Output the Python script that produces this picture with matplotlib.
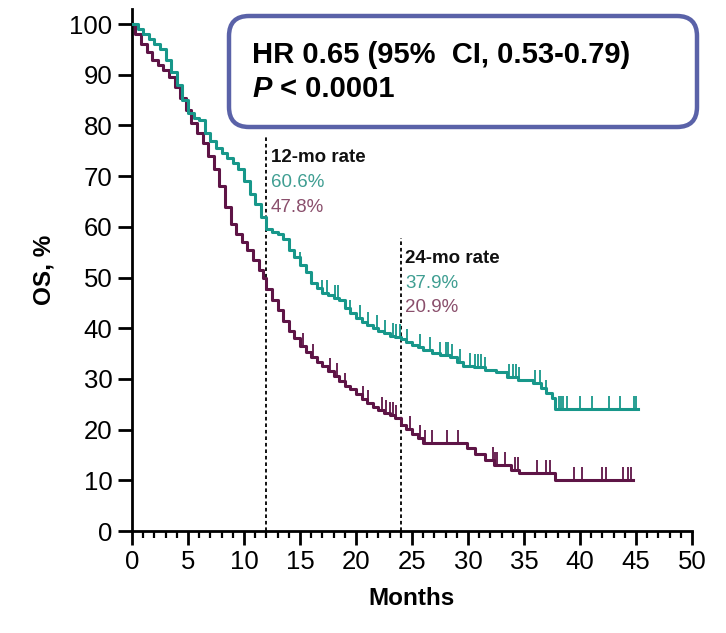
import numpy as np
import matplotlib
matplotlib.use('Agg')
import matplotlib.pyplot as plt
from matplotlib.patches import FancyBboxPatch

# Kaplan-Meier step points (months, OS %)
teal_t = [0, 0.5, 1.0, 1.5, 2.0, 2.5, 3.0, 3.5, 4.0, 4.5, 5.0, 5.5, 6.0, 6.5, 7.0, 7.5,
          8.0, 8.5, 9.0, 9.5, 10.0, 10.5, 11.0, 11.5, 12.0, 12.5, 13.0, 13.5, 14.0, 14.5,
          15.0, 15.5, 16.0, 16.5, 17.0, 17.5, 18.0, 18.5, 19.0, 19.5, 20.0, 20.5, 21.0,
          21.5, 22.0, 22.5, 23.0, 23.5, 24.0, 24.5, 25.0, 25.5, 26.0, 26.8, 27.5, 28.4,
          29.0, 29.6, 30.5, 31.5, 32.5, 33.5, 34.5, 35.8, 36.5, 37.0, 37.5, 37.8, 45.2]
teal_s = [100, 99, 98, 97, 96, 95, 93, 90.5, 88, 85, 82.5, 81.5, 81, 78.5, 77, 75.5,
          74.5, 73.5, 72.5, 71.5, 69, 66.5, 64.5, 62, 59.5, 59, 58.5, 57.5, 55.5, 54,
          52.5, 51, 49, 48, 47, 46.5, 46, 45.5, 44, 43, 42, 41.3, 40.7,
          40, 39.5, 39, 38.5, 38.2, 37.9, 37.3, 36.7, 36.2, 35.8, 35.2, 34.7, 34.3,
          33.3, 32.5, 32.3, 31.8, 31.4, 30.4, 29.8, 29.2, 28.2, 27.2, 26.2, 24.0, 24.0]

maroon_t = [0, 0.3, 0.8, 1.3, 1.8, 2.3, 2.8, 3.3, 3.8, 4.3, 4.8, 5.3, 5.8, 6.3, 6.8, 7.3,
            7.8, 8.3, 8.8, 9.3, 9.8, 10.3, 10.8, 11.3, 11.7, 12.0, 12.5, 13.0, 13.5, 14.0,
            14.5, 15.0, 15.5, 16.0, 16.5, 17.0, 17.5, 18.0, 18.5, 19.0, 19.5, 20.0, 20.5,
            21.0, 21.5, 22.0, 22.5, 23.0, 23.5, 24.0, 24.5, 25.0, 25.5, 26.0, 29.9, 30.6,
            31.5, 32.3, 33.8, 34.6, 37.8, 44.7]
maroon_s = [100, 98, 96, 94.5, 93, 92, 91, 89.5, 87.5, 85.5, 83, 80.5, 78.5, 76.5, 74, 71.5,
            68, 64, 60.5, 58.5, 57, 55.5, 53.5, 51.5, 50, 47.8, 45.5, 43.5, 41.5, 39.5,
            38, 36.5, 35.3, 34.3, 33.3, 32.5, 31.5, 30.5, 29.5, 28.7, 28, 27, 26,
            25.3, 24.5, 23.8, 23.3, 22.8, 22.2, 20.9, 20.2, 19.2, 18.3, 17.4, 16.3, 15.2,
            14.0, 13.0, 12.0, 11.4, 10.0, 10.0]

# censor times
teal_cens = [15.0, 17.0, 17.4, 18.1, 18.4, 19.5, 20.4, 21.1, 21.9, 22.6, 23.3, 23.6, 23.9,
             24.6, 25.7, 26.6, 27.5, 28.0, 28.2, 28.6, 29.3, 30.2, 30.6, 30.9, 31.2, 31.5,
             33.7, 34.0, 34.3, 34.6, 36.0, 36.4, 37.0, 38.1, 38.3, 38.5, 38.8, 40.0, 41.1,
             42.6, 43.6, 44.8, 45.0]
maroon_cens = [15.3, 16.2, 17.7, 18.3, 19.0, 20.6, 21.1, 22.3, 22.7, 23.0, 23.3, 23.6, 24.8,
               25.7, 26.2, 26.8, 28.1, 29.1, 32.2, 32.4, 32.6, 33.3, 34.2, 34.5, 36.2, 37.0,
               37.3, 39.5, 40.2, 42.0, 42.3, 43.8, 44.3, 44.6]

landmarks = [12, 24]
landmark_top = [77.7, 57.8]
rate_labels = ['12-mo rate', '24-mo rate']
teal_rates = ['60.6%', '37.9%']
maroon_rates = ['47.8%', '20.9%']

TEAL = '#17978a'
MAROON = '#5e1446'
TEAL_TXT = '#3f9e92'
MAROON_TXT = '#8a4f6c'

plt.rcParams['font.family'] = ['Liberation Sans', 'DejaVu Sans']


def surv_at(times, surv, c):
    idx = np.searchsorted(times, c, side='right') - 1
    return np.asarray(surv)[idx]


fig = plt.figure(figsize=(7.26, 6.33), dpi=100)
ax = fig.add_axes([0.1818, 0.1611, 0.7713, 0.825])

# landmark dotted lines
for x, top in zip(landmarks, landmark_top):
    ax.plot([x, x], [0, top], color='black', lw=1.3, ls=(0, (2, 1.6)), zorder=1)

tick_marker = [(0, 0), (0, 1)]
for t, s, cens, col in [(maroon_t, maroon_s, maroon_cens, MAROON),
                        (teal_t, teal_s, teal_cens, TEAL)]:
    ax.step(t, s, where='post', color=col, lw=2.2, zorder=3)
    cy = surv_at(t, s, cens)
    ax.plot(cens, cy, ls='none', marker=tick_marker, markersize=19,
            markeredgewidth=1.3, color=col, zorder=3)

# rate annotations
for x, top, lab, tr, mr in zip(landmarks, landmark_top, rate_labels, teal_rates, maroon_rates):
    x0 = x + 0.4
    ax.text(x0, top - 4.1, lab, fontsize=13.5, fontweight='bold', color='#111111', va='center')
    ax.text(x0, top - 9.0, tr, fontsize=13.5, color=TEAL_TXT, va='center')
    ax.text(x0, top - 13.8, mr, fontsize=13.5, color=MAROON_TXT, va='center')

ax.set_xlim(0, 50)
ax.set_ylim(0, 103)
ax.set_xticks(np.arange(0, 51, 5))
ax.set_xticks(np.arange(0, 51, 1), minor=True)
ax.set_yticks(np.arange(0, 101, 10))
for sp in ['top', 'right']:
    ax.spines[sp].set_visible(False)
for sp in ['left', 'bottom']:
    ax.spines[sp].set_linewidth(2.0)
ax.spines['bottom'].set_bounds(0, 50)
ax.tick_params(which='major', length=10, width=2.0, direction='out', labelsize=18.5, pad=4)
ax.tick_params(axis='x', which='minor', length=5, width=1.6, direction='out')

ax.set_xlabel('Months', fontsize=17.5, fontweight='bold', labelpad=9)
ax.set_ylabel('OS, %', fontsize=17.5, fontweight='bold', labelpad=10)

# HR box (inches)
box = FancyBboxPatch((2.29, 5.06), 4.68, 1.11, boxstyle='round,pad=0,rounding_size=0.2',
                     transform=fig.dpi_scale_trans, facecolor='white', edgecolor='#5a62a8',
                     lw=3.2, zorder=5)
fig.add_artist(box)
fig.text(2.52, 5.78, 'HR 0.65 (95%  CI, 0.53-0.79)', transform=fig.dpi_scale_trans,
         fontsize=21, fontweight='bold', va='center', zorder=6)
fig.text(2.52, 5.44, 'P', transform=fig.dpi_scale_trans, fontsize=21, fontweight='bold',
         style='italic', va='center', zorder=6)
fig.text(2.80, 5.44, '< 0.0001', transform=fig.dpi_scale_trans, fontsize=21,
         fontweight='bold', va='center', zorder=6)

fig.savefig('out.png', dpi=100)
